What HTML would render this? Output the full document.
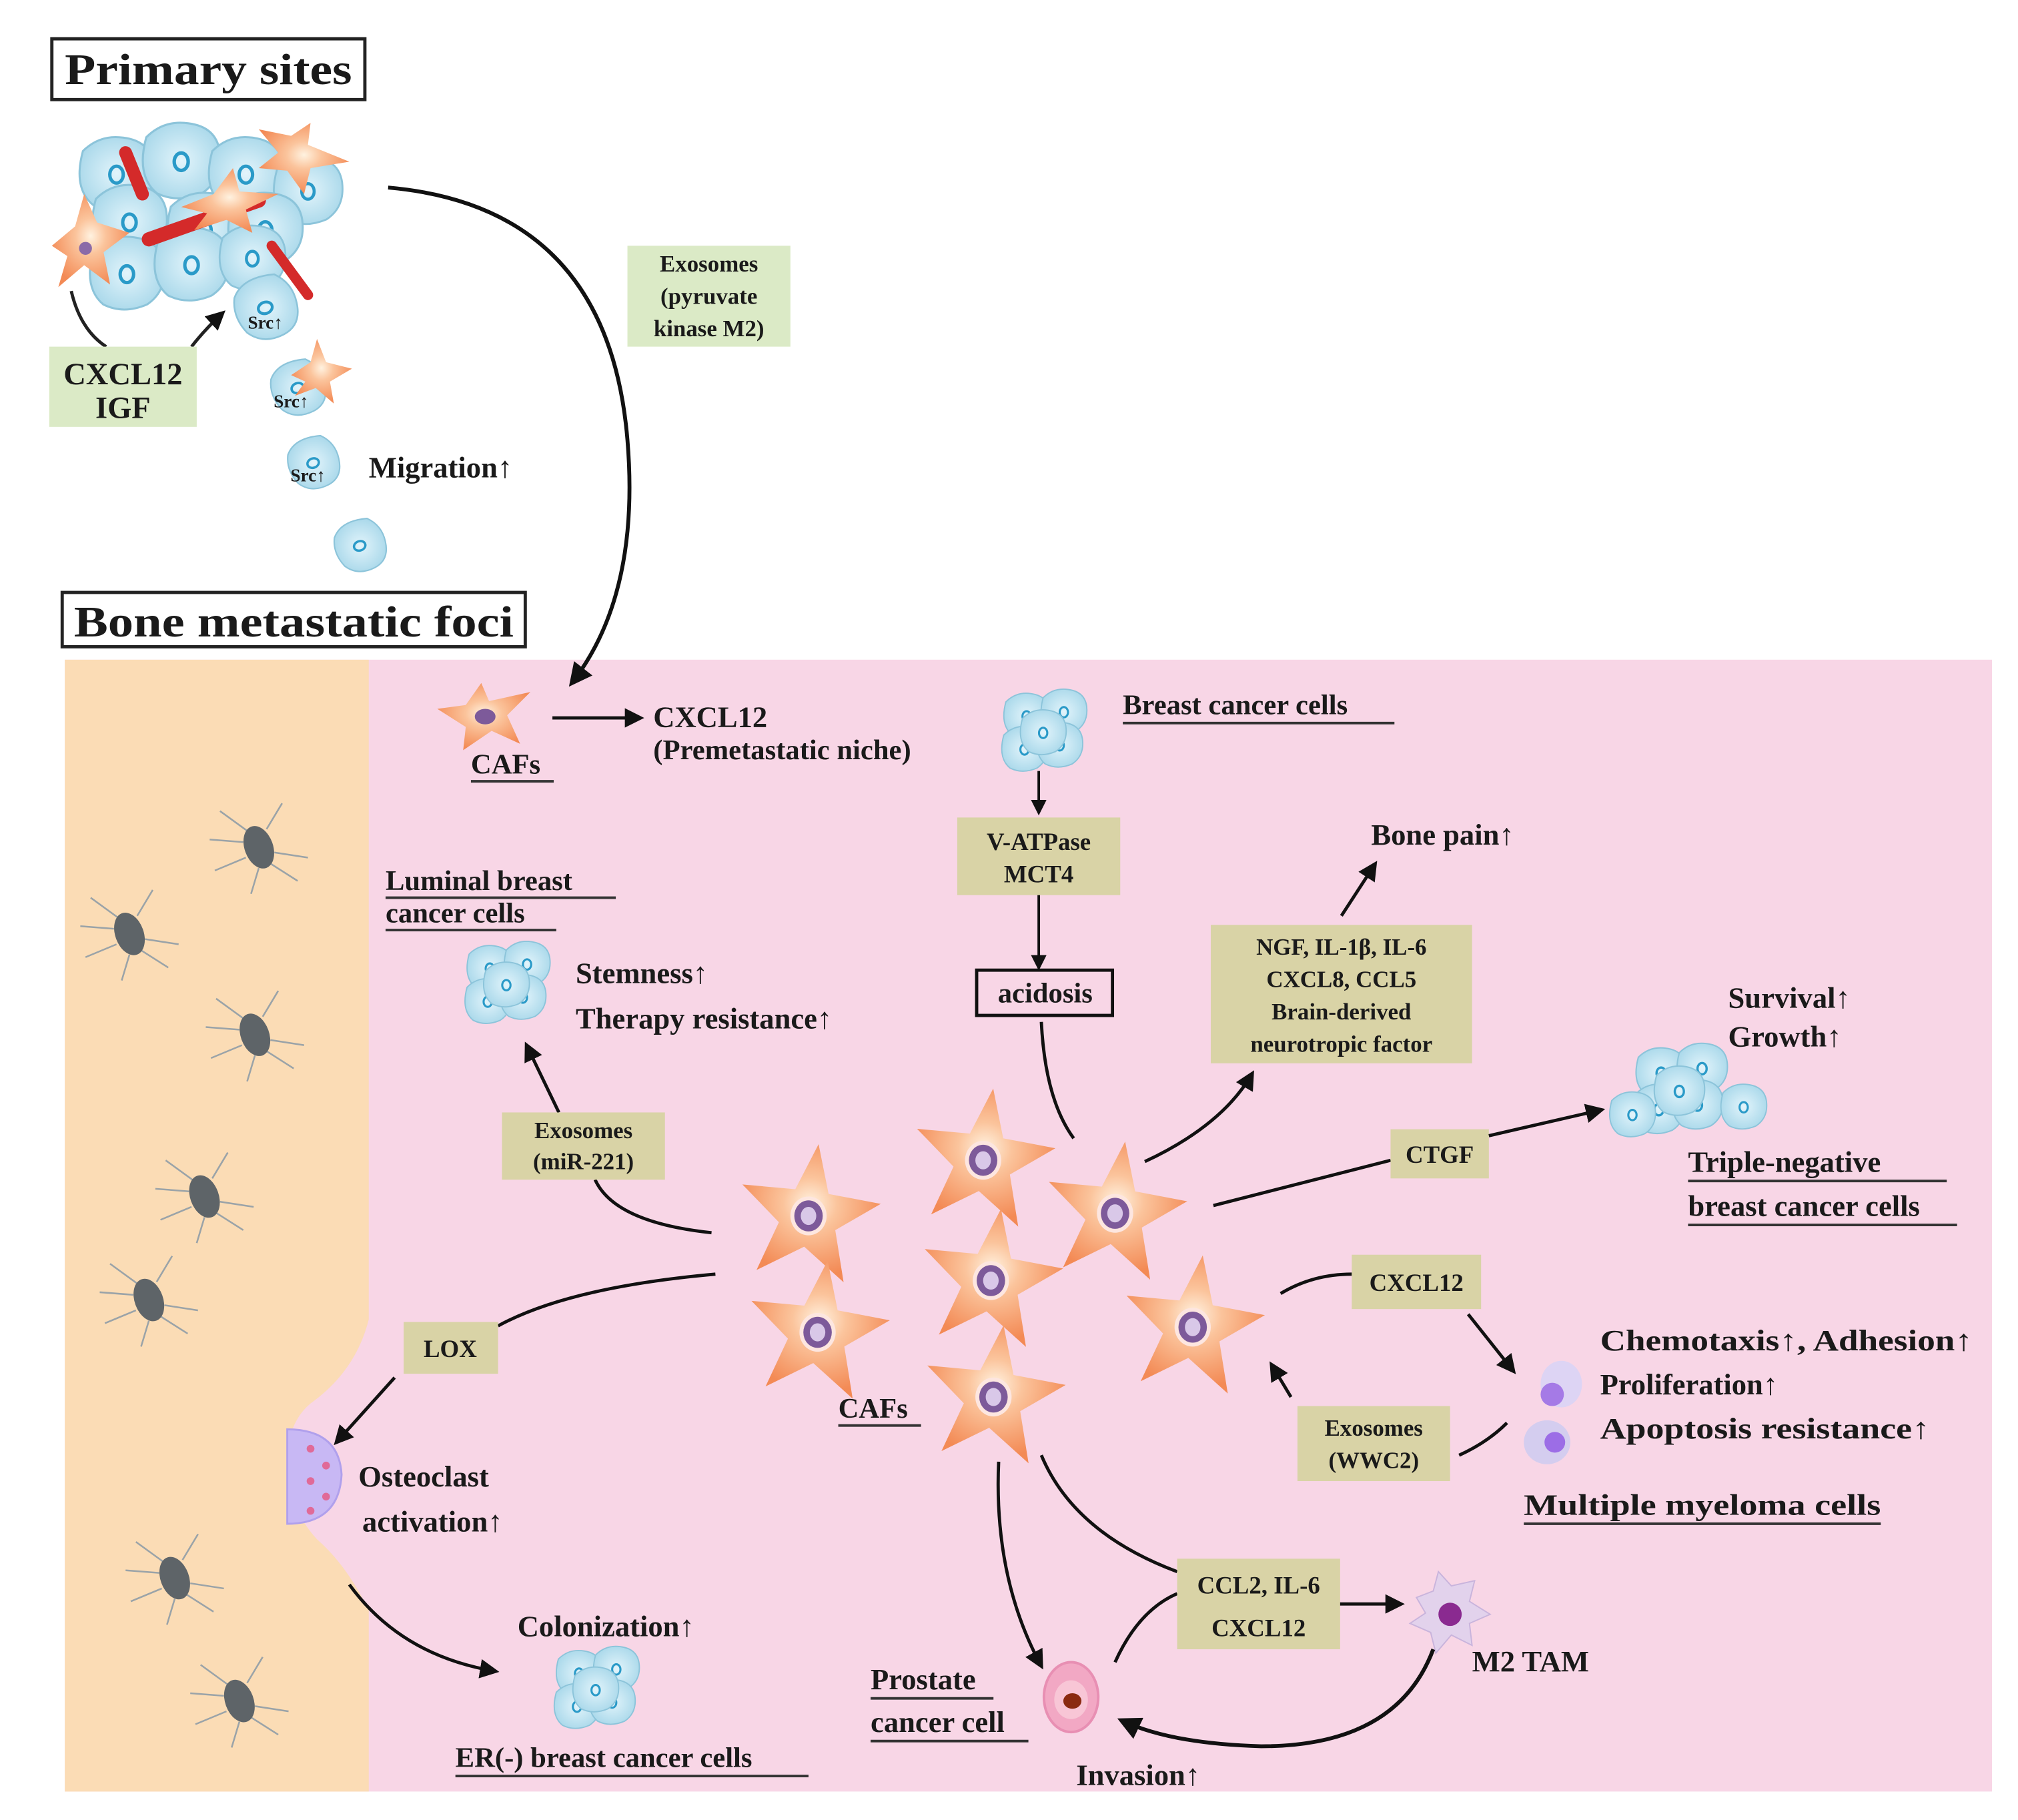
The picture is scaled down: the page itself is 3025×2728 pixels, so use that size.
<!DOCTYPE html>
<html><head><meta charset="utf-8"><style>
html,body{margin:0;padding:0;background:#fff}
svg{display:block}
text{font-family:"Liberation Serif",serif;fill:#1a1a1a}
</style></head><body>
<svg width="3025" height="2728" viewBox="0 0 1560 1407" xmlns="http://www.w3.org/2000/svg">
<defs>
<radialGradient id="sg" cx="50%" cy="45%" r="55%">
<stop offset="0" stop-color="#fff2e0"/><stop offset="0.35" stop-color="#fbc49c"/><stop offset="1" stop-color="#f38a55"/>
</radialGradient>
<radialGradient id="cg" cx="50%" cy="50%" r="55%">
<stop offset="0" stop-color="#e2f4fb"/><stop offset="1" stop-color="#a9d8ea"/>
</radialGradient>
<marker id="ah" viewBox="0 0 10 10" refX="8" refY="5" markerWidth="6" markerHeight="6" orient="auto-start-reverse">
<path d="M0,0 L10,5 L0,10 z" fill="#111"/>
</marker>
<g id="star">
<path d="M0,-56 L13,-19 L54,-17 L22,8 L34,47 L0,24 L-34,47 L-22,8 L-54,-17 L-13,-19 Z" fill="url(#sg)" transform="rotate(8)"/>
<ellipse cx="0" cy="0" rx="14" ry="15" fill="#fde6e0"/>
<ellipse cx="0" cy="0" rx="11" ry="12" fill="#7d5a9a"/>
<ellipse cx="0" cy="0" rx="6" ry="7" fill="#d9c8e8"/>
</g>
<g id="cell">
<path d="M-20,-14 Q-10,-24 4,-22 Q20,-20 22,-6 Q24,10 12,18 Q-2,24 -14,18 Q-26,8 -20,-14Z" fill="url(#cg)" stroke="#8cc4da" stroke-width="1.2"/>
<ellipse cx="0" cy="0" rx="4" ry="5" fill="none" stroke="#2a9ac8" stroke-width="2"/>
</g>
<g id="cluster">
<use href="#cell" x="-18" y="-14" transform="scale(0.8)"/>
<use href="#cell" x="18" y="-18" transform="scale(0.8)"/>
<use href="#cell" x="-20" y="18" transform="scale(0.8)"/>
<use href="#cell" x="14" y="14" transform="scale(0.8)"/>
<use href="#cell" x="-2" y="2" transform="scale(0.8)"/>
</g>
<g id="ocyte">
<g stroke="#9aa3a8" stroke-width="1.3" fill="none">
<path d="M-8,-12 L-30,-28"/><path d="M-12,-4 L-38,-6"/><path d="M-10,8 L-34,18"/><path d="M8,12 L30,26"/><path d="M12,4 L38,8"/><path d="M6,-14 L18,-34"/><path d="M0,16 L-6,36"/>
</g>
<ellipse cx="0" cy="0" rx="11" ry="17" transform="rotate(-20)" fill="#5e6468"/>
</g>
</defs>

<rect width="1560" height="1407" fill="#fff"/>

<rect x="50" y="510" width="1490" height="875" fill="#f8d6e6"/>
<path d="M50,510 L285,510 L285,1020 Q275,1060 240,1085 Q222,1100 222,1130 Q222,1165 245,1190 Q268,1210 285,1245 L285,1385 L50,1385 Z" fill="#fbdcb5"/>

<use href="#ocyte" x="200" y="655"/>
<use href="#ocyte" x="100" y="722"/>
<use href="#ocyte" x="197" y="800"/>
<use href="#ocyte" x="158" y="925"/>
<use href="#ocyte" x="115" y="1005"/>
<use href="#ocyte" x="135" y="1220"/>
<use href="#ocyte" x="185" y="1315"/>

<path d="M222,1105 Q262,1105 264,1140 Q262,1178 222,1178 Z" fill="#c8b8f4" stroke="#b0a0ec" stroke-width="1.5"/>
<g fill="#e06a98"><circle cx="240" cy="1120" r="3"/><circle cx="252" cy="1133" r="3"/><circle cx="240" cy="1145" r="3"/><circle cx="252" cy="1157" r="3"/><circle cx="240" cy="1168" r="3"/></g>

<rect x="40" y="30" width="242" height="47" fill="#fff" stroke="#222" stroke-width="2.5"/>
<text x="161" y="65" font-size="34" font-weight="bold" text-anchor="middle" textLength="222" lengthAdjust="spacingAndGlyphs">Primary sites</text>
<rect x="48" y="458" width="358" height="42" fill="#fff" stroke="#222" stroke-width="2.5"/>
<text x="227" y="492" font-size="34" font-weight="bold" text-anchor="middle" textLength="340" lengthAdjust="spacingAndGlyphs">Bone metastatic foci</text>

<g>
<use href="#cell" transform="translate(90,135) scale(1.3)"/>
<use href="#cell" transform="translate(140,125) scale(1.35)"/>
<use href="#cell" transform="translate(190,135) scale(1.3)"/>
<use href="#cell" transform="translate(238,148) scale(1.2)"/>
<use href="#cell" transform="translate(100,172) scale(1.3)"/>
<use href="#cell" transform="translate(158,178) scale(1.3)"/>
<use href="#cell" transform="translate(205,178) scale(1.3)"/>
<use href="#cell" transform="translate(98,212) scale(1.3)"/>
<use href="#cell" transform="translate(148,205) scale(1.3)"/>
<use href="#cell" transform="translate(195,200) scale(1.15)"/>
<use href="#cell" transform="translate(205,238) scale(1.1) rotate(70)"/>
<use href="#cell" transform="translate(230,300) scale(0.95) rotate(70)"/>
<use href="#cell" transform="translate(242,358) scale(0.9) rotate(70)"/>
<use href="#cell" transform="translate(278,422) scale(0.9) rotate(70)"/>
<path d="M115,185 L200,155" stroke="#d42a2a" stroke-width="11" stroke-linecap="round"/>
<path d="M97,118 L110,150" stroke="#d42a2a" stroke-width="10" stroke-linecap="round"/>
<path d="M210,190 L238,228" stroke="#d42a2a" stroke-width="8" stroke-linecap="round"/>
<path d="M40,190 L58,175 L65,150 L75,172 L100,180 L80,195 L85,220 L65,205 L45,222 L52,198 Z" fill="url(#sg)"/>
<circle cx="66" cy="192" r="5" fill="#8b6aa8"/>
<path d="M200,100 L225,105 L240,95 L238,112 L270,125 L240,130 L235,150 L222,132 L200,130 L215,118 Z" fill="url(#sg)"/>
<path d="M140,160 L165,150 L180,130 L185,148 L215,150 L190,162 L195,180 L175,170 L150,178 L160,165 Z" fill="url(#sg)"/>
<path d="M225,290 L240,280 L245,262 L252,280 L272,285 L255,295 L258,312 L244,300 L228,306 L236,295 Z" fill="url(#sg)"/>
<text x="205" y="254" font-size="14" font-weight="bold" text-anchor="middle">Src↑</text>
<text x="225" y="315" font-size="14" font-weight="bold" text-anchor="middle">Src↑</text>
<text x="238" y="372" font-size="14" font-weight="bold" text-anchor="middle">Src↑</text>
</g>

<path d="M55,225 Q62,255 82,268" fill="none" stroke="#222" stroke-width="2.5"/>
<path d="M148,268 Q158,255 172,242" fill="none" stroke="#222" stroke-width="2.5" marker-end="url(#ah)"/>
<rect x="38" y="268" width="114" height="62" fill="#dbeac6"/>
<text x="95" y="297" font-size="24" font-weight="bold" text-anchor="middle">CXCL12</text>
<text x="95" y="323" font-size="24" font-weight="bold" text-anchor="middle">IGF</text>
<text x="285" y="369" font-size="23" font-weight="bold">Migration↑</text>

<rect x="485" y="190" width="126" height="78" fill="#dbeac6"/>
<text x="548" y="210" font-size="18" font-weight="bold" text-anchor="middle">Exosomes</text>
<text x="548" y="235" font-size="18" font-weight="bold" text-anchor="middle">(pyruvate</text>
<text x="548" y="260" font-size="18" font-weight="bold" text-anchor="middle">kinase M2)</text>

<path d="M300,145 Q470,160 485,340 Q495,460 442,528" fill="none" stroke="#111" stroke-width="3" marker-end="url(#ah)"/>

<path d="M338,548 L360,545 L372,528 L378,542 L410,535 L392,553 L402,575 L380,565 L358,580 L360,562 Z" fill="url(#sg)"/>
<ellipse cx="375" cy="554" rx="8" ry="6" fill="#7d5a9a"/>
<text x="364" y="598" font-size="22" font-weight="bold">CAFs</text>
<line x1="364" y1="604" x2="428" y2="604" stroke="#333" stroke-width="2"/>
<path d="M427,555 L495,555" stroke="#111" stroke-width="2.5" marker-end="url(#ah)"/>
<text x="505" y="562" font-size="23" font-weight="bold">CXCL12</text>
<text x="505" y="587" font-size="22" font-weight="bold">(Premetastatic niche)</text>

<use href="#cluster" x="808" y="565"/>
<text x="868" y="552" font-size="22" font-weight="bold">Breast cancer cells</text>
<line x1="868" y1="559" x2="1078" y2="559" stroke="#333" stroke-width="2"/>
<path d="M803,596 L803,628" stroke="#111" stroke-width="2" marker-end="url(#ah)"/>
<rect x="740" y="632" width="126" height="60" fill="#d9d3a6"/>
<text x="803" y="657" font-size="19" font-weight="bold" text-anchor="middle">V-ATPase</text>
<text x="803" y="682" font-size="19" font-weight="bold" text-anchor="middle">MCT4</text>
<path d="M803,692 L803,748" stroke="#111" stroke-width="2" marker-end="url(#ah)"/>
<rect x="755" y="750" width="105" height="35" fill="#f8d6e6" stroke="#111" stroke-width="2.5"/>
<text x="808" y="775" font-size="22" font-weight="bold" text-anchor="middle">acidosis</text>
<path d="M805,790 Q808,850 830,880" fill="none" stroke="#111" stroke-width="2.5"/>

<text x="1060" y="653" font-size="23" font-weight="bold">Bone pain↑</text>
<path d="M1037,708 L1063,668" stroke="#111" stroke-width="2.5" marker-end="url(#ah)"/>
<rect x="936" y="715" width="202" height="107" fill="#d9d3a6"/>
<text x="1037" y="738" font-size="18" font-weight="bold" text-anchor="middle">NGF, IL-1β, IL-6</text>
<text x="1037" y="763" font-size="18" font-weight="bold" text-anchor="middle">CXCL8, CCL5</text>
<text x="1037" y="788" font-size="18" font-weight="bold" text-anchor="middle">Brain-derived</text>
<text x="1037" y="813" font-size="18" font-weight="bold" text-anchor="middle">neurotropic factor</text>
<path d="M885,898 Q945,870 968,830" fill="none" stroke="#111" stroke-width="2.5" marker-end="url(#ah)"/>

<text x="1336" y="779" font-size="23" font-weight="bold">Survival↑</text>
<text x="1336" y="809" font-size="23" font-weight="bold">Growth↑</text>
<use href="#cluster" transform="translate(1300,842) scale(1.1)"/>
<use href="#cell" transform="translate(1348,856) scale(0.8)"/>
<use href="#cell" transform="translate(1262,862) scale(0.8)"/>
<text x="1305" y="906" font-size="23" font-weight="bold">Triple-negative</text>
<line x1="1305" y1="913" x2="1505" y2="913" stroke="#333" stroke-width="2"/>
<text x="1305" y="940" font-size="23" font-weight="bold">breast cancer cells</text>
<line x1="1305" y1="947" x2="1513" y2="947" stroke="#333" stroke-width="2"/>
<path d="M938,932 L1075,897" stroke="#111" stroke-width="2.5"/>
<rect x="1075" y="873" width="76" height="38" fill="#d9d3a6"/>
<text x="1113" y="899" font-size="19" font-weight="bold" text-anchor="middle">CTGF</text>
<path d="M1151,878 L1238,858" stroke="#111" stroke-width="2.5" marker-end="url(#ah)"/>

<text x="298" y="688" font-size="22" font-weight="bold">Luminal breast</text>
<line x1="298" y1="694" x2="476" y2="694" stroke="#333" stroke-width="2"/>
<text x="298" y="713" font-size="22" font-weight="bold">cancer cells</text>
<line x1="298" y1="719" x2="430" y2="719" stroke="#333" stroke-width="2"/>
<use href="#cluster" x="393" y="760"/>
<text x="445" y="760" font-size="23" font-weight="bold">Stemness↑</text>
<text x="445" y="795" font-size="23" font-weight="bold">Therapy resistance↑</text>
<path d="M550,953 Q475,945 460,912" fill="none" stroke="#111" stroke-width="2.5"/>
<path d="M432,860 L407,808" stroke="#111" stroke-width="2.5" marker-end="url(#ah)"/>
<rect x="388" y="860" width="126" height="52" fill="#d9d3a6"/>
<text x="451" y="880" font-size="18" font-weight="bold" text-anchor="middle">Exosomes</text>
<text x="451" y="904" font-size="18" font-weight="bold" text-anchor="middle">(miR-221)</text>

<use href="#star" x="625" y="940"/>
<use href="#star" x="760" y="897"/>
<use href="#star" x="862" y="938"/>
<use href="#star" x="766" y="990"/>
<use href="#star" x="632" y="1030"/>
<use href="#star" x="922" y="1026"/>
<use href="#star" x="768" y="1080"/>
<text x="648" y="1096" font-size="22" font-weight="bold">CAFs</text>
<line x1="648" y1="1102" x2="712" y2="1102" stroke="#333" stroke-width="2"/>

<path d="M553,985 Q440,995 385,1025" fill="none" stroke="#111" stroke-width="2.5"/>
<rect x="312" y="1022" width="73" height="40" fill="#d9d3a6"/>
<text x="348" y="1049" font-size="19" font-weight="bold" text-anchor="middle">LOX</text>
<path d="M305,1065 L260,1115" stroke="#111" stroke-width="2.5" marker-end="url(#ah)"/>
<text x="277" y="1149" font-size="23" font-weight="bold">Osteoclast</text>
<text x="280" y="1184" font-size="23" font-weight="bold">activation↑</text>
<path d="M270,1225 Q310,1280 383,1292" fill="none" stroke="#111" stroke-width="2.5" marker-end="url(#ah)"/>
<text x="400" y="1265" font-size="23" font-weight="bold">Colonization↑</text>
<use href="#cluster" x="462" y="1305"/>
<text x="352" y="1366" font-size="22" font-weight="bold">ER(-) breast cancer cells</text>
<line x1="352" y1="1373" x2="625" y2="1373" stroke="#333" stroke-width="2"/>

<path d="M990,1000 Q1015,985 1045,985" fill="none" stroke="#111" stroke-width="2.5"/>
<rect x="1045" y="970" width="100" height="42" fill="#d9d3a6"/>
<text x="1095" y="998" font-size="19" font-weight="bold" text-anchor="middle">CXCL12</text>
<path d="M1135,1016 L1170,1060" stroke="#111" stroke-width="2.5" marker-end="url(#ah)"/>
<ellipse cx="1207" cy="1070" rx="16" ry="18" fill="#ddd4f4"/>
<circle cx="1200" cy="1078" r="9" fill="#a57ae6"/>
<ellipse cx="1196" cy="1115" rx="18" ry="17" fill="#d4cdef"/>
<circle cx="1202" cy="1115" r="8" fill="#9c6de6"/>
<text x="1237" y="1044" font-size="23" font-weight="bold" textLength="288" lengthAdjust="spacingAndGlyphs">Chemotaxis↑, Adhesion↑</text>
<text x="1237" y="1078" font-size="23" font-weight="bold">Proliferation↑</text>
<text x="1237" y="1112" font-size="23" font-weight="bold" textLength="255" lengthAdjust="spacingAndGlyphs">Apoptosis resistance↑</text>
<text x="1178" y="1171" font-size="23" font-weight="bold" textLength="276" lengthAdjust="spacingAndGlyphs">Multiple myeloma cells</text>
<line x1="1178" y1="1178" x2="1454" y2="1178" stroke="#333" stroke-width="2"/>
<rect x="1003" y="1087" width="118" height="58" fill="#d9d3a6"/>
<text x="1062" y="1110" font-size="18" font-weight="bold" text-anchor="middle">Exosomes</text>
<text x="1062" y="1135" font-size="18" font-weight="bold" text-anchor="middle">(WWC2)</text>
<path d="M998,1080 L983,1055" stroke="#111" stroke-width="2.5" marker-end="url(#ah)"/>
<path d="M1128,1125 Q1150,1115 1165,1100" fill="none" stroke="#111" stroke-width="2.5"/>

<path d="M805,1125 Q830,1185 910,1215" fill="none" stroke="#111" stroke-width="2.5"/>
<path d="M772,1130 Q768,1220 805,1288" fill="none" stroke="#111" stroke-width="2.5" marker-end="url(#ah)"/>
<path d="M862,1285 Q880,1245 910,1232" fill="none" stroke="#111" stroke-width="2.5"/>
<rect x="910" y="1205" width="126" height="70" fill="#d9d3a6"/>
<text x="973" y="1232" font-size="19" font-weight="bold" text-anchor="middle">CCL2, IL-6</text>
<text x="973" y="1265" font-size="19" font-weight="bold" text-anchor="middle">CXCL12</text>
<path d="M1036,1240 L1083,1240" stroke="#111" stroke-width="2.5" marker-end="url(#ah)"/>
<path d="M1095,1235 L1108,1230 L1112,1215 L1122,1226 L1140,1222 L1136,1238 L1152,1248 L1136,1255 L1138,1272 L1122,1264 L1110,1278 L1106,1262 L1090,1255 L1102,1247 Z" fill="#e2d2ec" stroke="#c9b4dc" stroke-width="1"/>
<circle cx="1121" cy="1248" r="9" fill="#8a2a90"/>
<text x="1138" y="1292" font-size="23" font-weight="bold">M2 TAM</text>
<path d="M1108,1275 Q1080,1350 975,1350 Q905,1348 867,1330" fill="none" stroke="#111" stroke-width="3" marker-end="url(#ah)"/>
<ellipse cx="828" cy="1312" rx="21" ry="27" fill="#f2a8c4" stroke="#e88fb3" stroke-width="2"/>
<ellipse cx="828" cy="1314" rx="13" ry="15" fill="#f8c6d6"/>
<ellipse cx="829" cy="1315" rx="7" ry="6" fill="#8a2a10"/>
<text x="673" y="1306" font-size="23" font-weight="bold">Prostate</text>
<line x1="673" y1="1313" x2="768" y2="1313" stroke="#333" stroke-width="2"/>
<text x="673" y="1339" font-size="23" font-weight="bold">cancer cell</text>
<line x1="673" y1="1346" x2="795" y2="1346" stroke="#333" stroke-width="2"/>
<text x="832" y="1380" font-size="23" font-weight="bold">Invasion↑</text>
</svg>
</body></html>
